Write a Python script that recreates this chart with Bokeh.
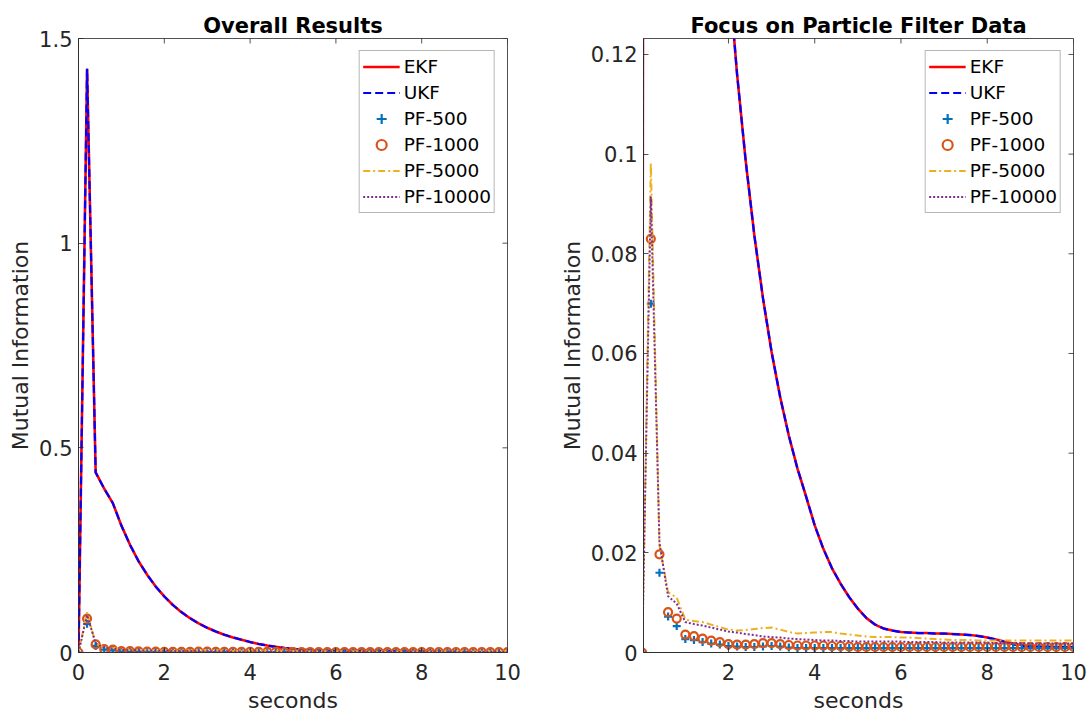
import math
from bokeh.plotting import figure
from bokeh.layouts import row
from bokeh.models import Legend, LegendItem, FixedTicker, Range1d
from bokeh.embed import file_html
from bokeh.resources import INLINE

# ---------------- data ----------------
t = [0.0, 0.2, 0.4, 0.6, 0.8, 1.0, 1.2, 1.4, 1.6, 1.8,
     2.0, 2.2, 2.4, 2.6, 2.8, 3.0, 3.2, 3.4, 3.6, 3.8,
     4.0, 4.2, 4.4, 4.6, 4.8, 5.0, 5.2, 5.4, 5.6, 5.8,
     6.0, 6.2, 6.4, 6.6, 6.8, 7.0, 7.2, 7.4, 7.6, 7.8,
     8.0, 8.2, 8.4, 8.6, 8.8, 9.0, 9.2, 9.4, 9.6, 9.8, 10.0]

ekf = [0.0, 1.426, 0.44, 0.40, 0.365, 0.310, 0.263, 0.223, 0.190, 0.161,
       0.137, 0.116, 0.0986, 0.0837, 0.0711, 0.0603, 0.0512, 0.0435, 0.0369, 0.0313,
       0.0255, 0.0208, 0.0169, 0.0138, 0.0111, 0.0088, 0.0069, 0.0056, 0.0048, 0.0044,
       0.0041, 0.0040, 0.0039, 0.0039, 0.0038, 0.0038, 0.0037, 0.0036, 0.0035, 0.0033,
       0.0030, 0.0026, 0.0022, 0.0018, 0.0015, 0.0013, 0.0012, 0.0012, 0.0011, 0.0011, 0.0011]

ukf = [0.0, 1.426, 0.44, 0.40, 0.365, 0.310, 0.263, 0.223, 0.190, 0.161,
       0.137, 0.116, 0.0986, 0.0837, 0.0711, 0.0603, 0.0512, 0.0435, 0.0369, 0.0313,
       0.0255, 0.0208, 0.0169, 0.0138, 0.0111, 0.0088, 0.0069, 0.0056, 0.0048, 0.0044,
       0.0041, 0.0040, 0.0039, 0.0039, 0.0038, 0.0038, 0.0037, 0.0036, 0.0035, 0.0033,
       0.0030, 0.0026, 0.0021, 0.0016, 0.0013, 0.0011, 0.0011, 0.0011, 0.0011, 0.0011, 0.0011]

pf500 = [0.0, 0.070, 0.0160, 0.0072, 0.0053, 0.0027, 0.0025, 0.0021, 0.0018, 0.0016,
         0.0013, 0.0012, 0.0011, 0.0011, 0.0012, 0.0013, 0.0012, 0.0010, 0.0009, 0.0009,
         0.0009, 0.0009, 0.0009, 0.0009, 0.0009, 0.0009, 0.0009, 0.0009, 0.0009, 0.0009,
         0.0009, 0.0009, 0.0009, 0.0009, 0.0009, 0.0009, 0.0009, 0.0009, 0.0009, 0.0009,
         0.0009, 0.0009, 0.0009, 0.0009, 0.0009, 0.0009, 0.0009, 0.0009, 0.0009, 0.0009, 0.0009]

pf1000 = [0.0, 0.083, 0.0197, 0.0081, 0.0068, 0.0036, 0.0033, 0.0028, 0.0024, 0.0021,
          0.0017, 0.0016, 0.0016, 0.0017, 0.0019, 0.0019, 0.0017, 0.0015, 0.0014, 0.0014,
          0.0014, 0.0014, 0.0013, 0.0013, 0.0012, 0.0011, 0.0011, 0.0011, 0.0011, 0.0011,
          0.0011, 0.0011, 0.0011, 0.0011, 0.0011, 0.0011, 0.0011, 0.0011, 0.0011, 0.0011,
          0.0011, 0.0011, 0.0011, 0.0011, 0.0011, 0.0011, 0.0011, 0.0011, 0.0011, 0.0011, 0.0011]

pf5000 = [0.0, 0.0982, 0.0215, 0.0121, 0.0110, 0.0066, 0.0063, 0.0061, 0.0056, 0.0051,
          0.0046, 0.0044, 0.0045, 0.0047, 0.0049, 0.0050, 0.0046, 0.0041, 0.0038, 0.0039,
          0.0040, 0.0041, 0.0041, 0.0038, 0.0036, 0.0034, 0.0032, 0.0031, 0.0031, 0.0031,
          0.0030, 0.0030, 0.0029, 0.0028, 0.0027, 0.0026, 0.0025, 0.0025, 0.0025, 0.0024,
          0.0024, 0.0024, 0.0024, 0.0024, 0.0024, 0.0024, 0.0024, 0.0024, 0.0024, 0.0024, 0.0024]

pf10000 = [0.0, 0.0915, 0.0220, 0.0113, 0.0098, 0.0061, 0.0057, 0.0054, 0.0050, 0.0046,
           0.0042, 0.0040, 0.0037, 0.0035, 0.0032, 0.0031, 0.0030, 0.0028, 0.0027, 0.0026,
           0.0025, 0.0024, 0.0024, 0.0023, 0.0023, 0.0022, 0.0022, 0.0022, 0.0022, 0.0022,
           0.0022, 0.0021, 0.0021, 0.0021, 0.0021, 0.0020, 0.0020, 0.0020, 0.0020, 0.0020,
           0.0020, 0.0019, 0.0019, 0.0019, 0.0019, 0.0018, 0.0018, 0.0018, 0.0018, 0.0018, 0.0018]

series_names = ["EKF", "UKF", "PF-500", "PF-1000", "PF-5000", "PF-10000"]
titles = ["Overall Results", "Focus on Particle Filter Data"]
x_label = "seconds"
y_label = "Mutual Information"

left_xticks = [0, 2, 4, 6, 8, 10]
left_xtick_labels = ["0", "2", "4", "6", "8", "10"]
left_yticks = [0, 0.5, 1, 1.5]
left_ytick_labels = ["0", "0.5", "1", "1.5"]
right_xticks = [2, 4, 6, 8, 10]
right_xtick_labels = ["2", "4", "6", "8", "10"]
right_yticks = [0, 0.02, 0.04, 0.06, 0.08, 0.1, 0.12]
right_ytick_labels = ["0", "0.02", "0.04", "0.06", "0.08", "0.1", "0.12"]

# ---------------- styling ----------------
FONT = "DejaVu Sans"
AX = "#262626"
H = 719


def build(title, width, border_left, border_right, xr, yr, xticks, xlabels, yticks, ylabels):
    p = figure(width=width, height=H, output_backend="svg", toolbar_location=None,
               x_range=Range1d(*xr), y_range=Range1d(*yr),
               min_border_left=border_left, min_border_right=border_right,
               min_border_top=38, min_border_bottom=67,
               x_axis_label=x_label, y_axis_label=y_label, title=title)
    p.xgrid.visible = False
    p.ygrid.visible = False
    p.outline_line_color = AX
    p.outline_line_width = 0.8
    p.background_fill_color = "white"
    p.border_fill_color = "white"

    p.xaxis.ticker = FixedTicker(ticks=xticks)
    p.xaxis.major_label_overrides = dict(zip(xticks, xlabels))
    p.yaxis.ticker = FixedTicker(ticks=yticks)
    p.yaxis.major_label_overrides = dict(zip(yticks, ylabels))

    for ax in list(p.xaxis) + list(p.yaxis):
        ax.axis_line_color = AX
        ax.axis_line_width = 0.8
        ax.major_tick_line_color = AX
        ax.major_tick_line_width = 0.8
        ax.major_tick_in = 5
        ax.major_tick_out = 0
        ax.minor_tick_line_color = None
        ax.major_label_text_font = FONT
        ax.major_label_text_font_size = "21px"
        ax.major_label_text_color = AX
        ax.axis_label_text_font = FONT
        ax.axis_label_text_font_size = "22px"
        ax.axis_label_text_font_style = "normal"
        ax.axis_label_text_color = AX

    p.xaxis.major_label_standoff = 11
    p.xaxis.axis_label_standoff = 5
    p.yaxis.major_label_standoff = 6
    p.yaxis.axis_label_standoff = 3

    # inward tick marks on the top and right edges of the box (MATLAB "box on")
    p.scatter(xticks, [yr[1]] * len(xticks), marker="dash", angle=math.pi / 2, size=10,
              line_color=AX, line_width=0.8)
    p.scatter([xr[1]] * len(yticks), yticks, marker="dash", size=10,
              line_color=AX, line_width=0.8)

    p.title.align = "center"
    p.title.text_font = FONT
    p.title.text_font_size = "21px"
    p.title.text_font_style = "bold"
    p.title.text_color = "black"
    p.title.standoff = 1

    r1 = p.line(t, ekf, line_color="#FF0000", line_width=2.6)
    r2 = p.line(t, ukf, line_color="#0000FF", line_width=2.2, line_dash="8 4")
    r3 = p.scatter(t, pf500, marker="cross", size=8, line_color="#0072BD", line_width=2.2)
    r4 = p.scatter(t, pf1000, marker="circle", size=8, line_color="#D95319",
                   fill_color=None, line_width=2.2)
    r5 = p.line(t, pf5000, line_color="#EDB120", line_width=2, line_dash="7 3 2 3")
    r6 = p.line(t, pf10000, line_color="#7E2F8E", line_width=2, line_dash="2 2")

    items = [LegendItem(label=n, renderers=[r]) for n, r in zip(series_names, [r1, r2, r3, r4, r5, r6])]
    leg = Legend(items=items, location="top_right", margin=12, padding=3, spacing=1,
                 glyph_width=37, glyph_height=25, label_height=25, label_standoff=4,
                 label_text_font=FONT, label_text_font_size="18.5px", label_text_color="black",
                 border_line_color="#6e6e6e", border_line_width=1,
                 background_fill_color="white", background_fill_alpha=1)
    p.add_layout(leg)
    return p


p1 = build(titles[0], 555, 78, 48, (0, 10), (0, 1.5),
           left_xticks, left_xtick_labels, left_yticks, left_ytick_labels)
p2 = build(titles[1], 537, 88, 19, (0.03, 10), (0, 0.1232),
           right_xticks, right_xtick_labels, right_yticks, right_ytick_labels)

layout = row(p1, p2)
open("out.html", "w").write(file_html(layout, INLINE))
